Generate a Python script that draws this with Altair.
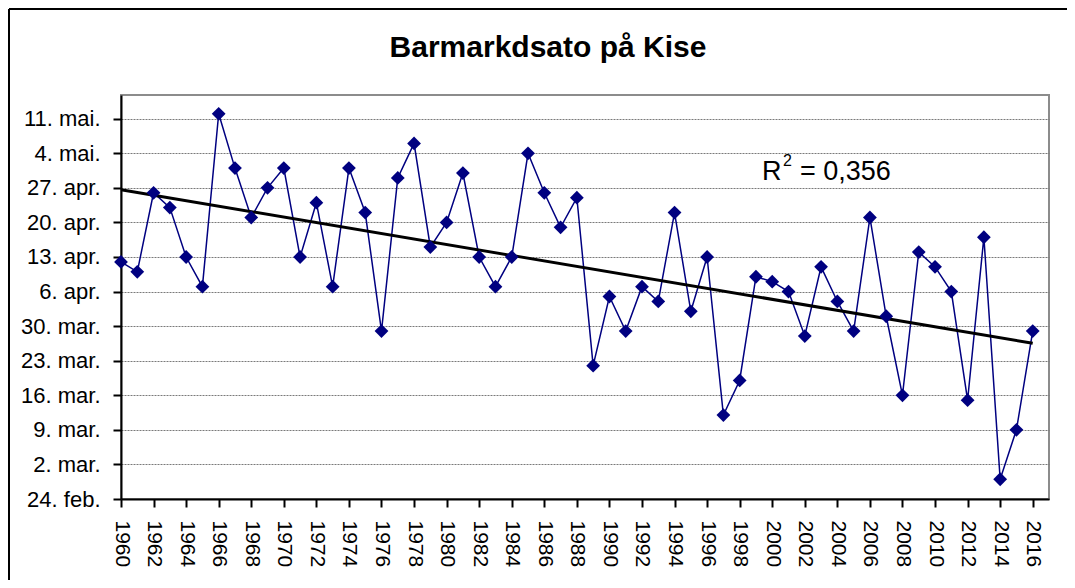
import altair as alt
import pandas as pd

# ---- data ----
years = list(range(1960, 2017))
# snow-free date as days after 24 Feb (Excel calendar: 24 feb + 7 = 2 mar)
days = [48, 46, 62, 59, 49, 43, 78, 67, 57, 63,
        67, 49, 60, 43, 67, 58, 34, 65, 72, 51,
        56, 66, 49, 43, 49, 70, 62, 55, 61, 27,
        41, 34, 43, 40, 58, 38, 49, 17, 24, 45,
        44, 42, 33, 47, 40, 34, 57, 37, 21, 50,
        47, 42, 20, 53, 4, 14, 34]
y_tick_labels = ["24. feb.", "2. mar.", "9. mar.", "16. mar.", "23. mar.", "30. mar.",
                 "6. apr.", "13. apr.", "20. apr.", "27. apr.", "4. mai.", "11. mai."]
y_tick_values = [7 * i for i in range(len(y_tick_labels))]
x_tick_years = list(range(1960, 2017, 2))
title_text = "Barmarkdsato på Kise"
r_text = "R"
r_sup = "2"
r_value_text = "= 0,356"

FONT = "Liberation Sans"
NAVY = "#000080"

df = pd.DataFrame({"year": years, "day": days})
one = pd.DataFrame({"k": [0]})

label_expr = "[" + ",".join(f"'{l}'" for l in y_tick_labels) + "][round(datum.value/7)]"

xs = alt.Scale(domain=[1960, 2017], nice=False, zero=False)
ys = alt.Scale(domain=[0, 81.8], nice=False, zero=False)

x_axis = alt.Axis(values=x_tick_years, format="d", labelAngle=90, labelAlign="left",
                  labelBaseline="middle", labelOverlap=False, labelFlush=False,
                  title=None, grid=False,
                  tickSize=8, labelPadding=13, labelFontSize=21, labelFont=FONT,
                  labelColor="black", domainColor="black", domainWidth=2,
                  tickColor="black", tickWidth=2)
y_axis = alt.Axis(values=y_tick_values, labelExpr=label_expr, labelOverlap=False,
                  labelFlush=False,
                  title=None, grid=True, gridColor="#7a7a7a", gridDash=[2, 1], gridWidth=1,
                  tickSize=8, labelPadding=13, labelFontSize=22, labelFont=FONT,
                  labelColor="black", domainColor="black", domainWidth=2,
                  tickColor="black", tickWidth=2)

X = alt.X("year:Q", scale=xs, axis=x_axis)
Y = alt.Y("day:Q", scale=ys, axis=y_axis)

base = alt.Chart(df)

line = base.mark_line(color=NAVY, strokeWidth=1.5).encode(x=X, y=Y)
pts = base.mark_point(shape="diamond", filled=True, size=190, color=NAVY,
                      opacity=1).encode(x=X, y=Y)
trend = base.transform_regression("year", "day", extent=[1960, 2016]).mark_line(
    color="black", strokeWidth=3
).encode(x=X, y=Y)

ann = alt.Chart(one)
title_mark = ann.mark_text(text=title_text, fontSize=30, font=FONT, fontWeight="bold",
                           align="center", baseline="alphabetic", color="black").encode(
    x=alt.value(427), y=alt.value(-38))
r_mark = ann.mark_text(text=r_text, fontSize=27, font=FONT, align="left",
                       baseline="alphabetic", color="black").encode(
    x=alt.value(641), y=alt.value(85))
sup_mark = ann.mark_text(text=r_sup, fontSize=16, font=FONT, align="left",
                         baseline="alphabetic", color="black").encode(
    x=alt.value(662), y=alt.value(71))
val_mark = ann.mark_text(text=r_value_text, fontSize=27, font=FONT, align="left",
                         baseline="alphabetic", color="black").encode(
    x=alt.value(679), y=alt.value(85))

# outer chart frame (top and left edges are visible in the reference)
frame_top = ann.mark_rule(color="black", strokeWidth=2).encode(
    x=alt.value(-112), x2=alt.value(946), y=alt.value(-86))
frame_left = ann.mark_rule(color="black", strokeWidth=2).encode(
    x=alt.value(-112), y=alt.value(-86), y2=alt.value(485))

chart = alt.layer(line, trend, pts, frame_top, frame_left, title_mark,
                  r_mark, sup_mark, val_mark).properties(
    width=928, height=404,
    padding={"left": 113, "top": 87, "right": 18, "bottom": 81},
    autosize=alt.AutoSizeParams(type="none"),
    background="white",
).configure_view(stroke="#8c8c8c", strokeWidth=2).configure_axis(labelOverlap=False)

chart.save("out.html", embed_options={"renderer": "svg", "actions": False})
